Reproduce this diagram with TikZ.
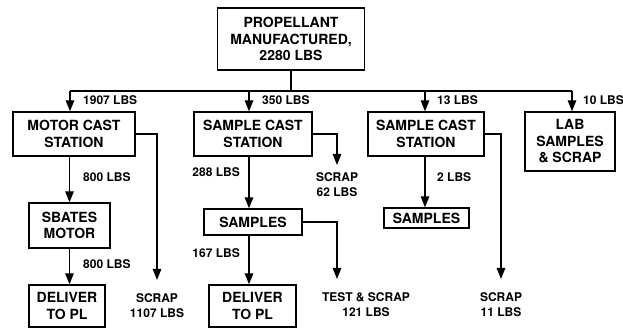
\documentclass[tikz,border=0pt]{standalone}
\usepackage{fontspec}
\setmainfont{TeX Gyre Heros}
\usetikzlibrary{arrows.meta,positioning}

\tikzset{
  flowbox/.style={draw,line width=1.4pt,align=center,inner sep=0pt,font=\fontsize{14}{16.5}\selectfont\bfseries},
  flowline/.style={line width=1.4pt},
  flowarr/.style={flowline,-{Triangle[length=11pt,width=8.5pt]}},
  lbs/.style={inner sep=0pt,font=\fontsize{12}{15}\selectfont\bfseries},
  scrapnote/.style={lbs,align=center,outer ysep=14pt}
}

\begin{document}
\begin{tikzpicture}[x=1pt,y=-1pt]
\useasboundingbox (0,0) rectangle (623,328);
% boxes
\node[flowbox,minimum width=147pt,minimum height=62pt] (prop) at (291,39) {PROPELLANT\\MANUFACTURED,\\2280 LBS};
\node[flowbox,minimum width=122pt,minimum height=44pt] (motor) at (74,134) {MOTOR CAST\\STATION};
\node[flowbox,minimum width=118pt,minimum height=44pt] (scastA) at (253,134) {SAMPLE CAST\\STATION};
\node[flowbox,minimum width=116pt,minimum height=44pt] (scastB) at (426,134) {SAMPLE CAST\\STATION};
\node[flowbox,minimum width=90pt,minimum height=59pt] (lab) at (570,141.5) {LAB\\SAMPLES\\\& SCRAP};
\node[flowbox,minimum width=81pt,minimum height=45pt] (sbates) at (69.5,225.5) {SBATES\\MOTOR};
\node[flowbox,minimum width=76pt,minimum height=42pt] (deliverA) at (67,306) {DELIVER\\TO PL};
\node[flowbox,minimum width=98pt,minimum height=26pt] (samplesA) at (253,222) {SAMPLES};
\node[flowbox,minimum width=87pt,minimum height=42pt] (deliverB) at (252.5,306) {DELIVER\\TO PL};
\node[flowbox,minimum width=85pt,minimum height=20pt] (samplesB) at (426.5,218) {SAMPLES};
% scrap notes
\node[scrapnote] (scrapA) at (157,306) {SCRAP\\1107 LBS};
\node[scrapnote,outer ysep=8pt] (scrapB) at (337,185) {SCRAP\\62 LBS};
\node[scrapnote] (testscrap) at (366,305) {TEST \& SCRAP\\121 LBS};
\node[scrapnote] (scrapC) at (501,305) {SCRAP\\11 LBS};
% weights
\node[lbs,anchor=west] (lbsA) at (83,100) {1907 LBS};
\node[lbs,anchor=west] (lbsB) at (262,100) {350 LBS};
\node[lbs,anchor=west] (lbsC) at (437,100) {13 LBS};
\node[lbs,anchor=west] (lbsD) at (583,100) {10 LBS};
\node[lbs,anchor=west] (lbsE) at (83,177) {800 LBS};
\node[lbs,anchor=west] (lbsF) at (83,264) {800 LBS};
\node[lbs,anchor=east] (lbsG) at (240,172) {288 LBS};
\node[lbs,anchor=east] (lbsH) at (240,253) {167 LBS};
\node[lbs,anchor=west] (lbsI) at (437,177) {2 LBS};
% distribution bus
\coordinate (busA) at (70,91);
\coordinate (busB) at (249,91);
\coordinate (busC) at (425,91);
\coordinate (busD) at (572,91);
\draw[flowline] (prop.south) -- (prop.south |- busA);
\draw[flowline] (busA) -- (busD);
\draw[flowarr] (busA) -- (busA |- motor.north);
\draw[flowarr] (busB) -- (busB |- scastA.north);
\draw[flowarr] (busC) -- (busC |- scastB.north);
\draw[flowarr] (busD) -- (busD |- lab.north);
% motor branch
\draw[flowarr] (sbates.north |- motor.south) -- (sbates.north);
\draw[flowarr] (sbates.south) -- (sbates.south |- deliverA.north);
\draw[flowarr] (motor.east) -| (scrapA.north);
% first sample branch
\draw[flowarr] (busB |- scastA.south) -- (busB |- samplesA.north);
\draw[flowarr] (busB |- samplesA.south) -- (busB |- deliverB.north);
\draw[flowarr] (scastA.east) -| (scrapB.north);
\draw[flowarr] (samplesA.east) -| (testscrap.north -| scrapB.north);
% second sample branch
\draw[flowarr] (busC |- scastB.south) -- (busC |- samplesB.north);
\draw[flowarr] (scastB.east) -| (scrapC.north);
\end{tikzpicture}
\end{document}
